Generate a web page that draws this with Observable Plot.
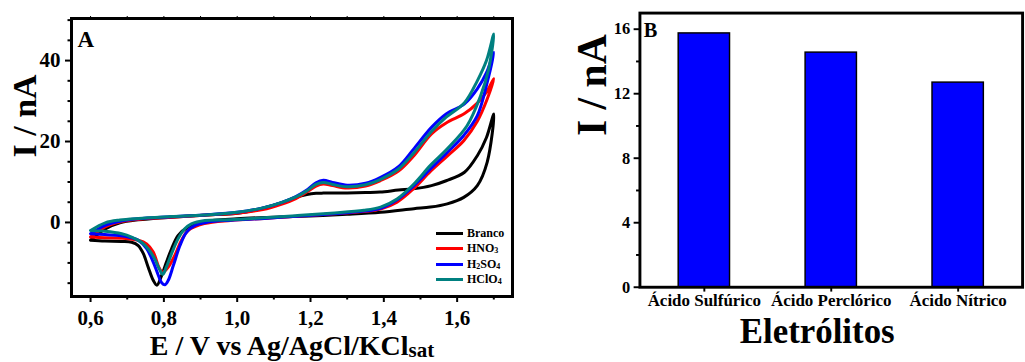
<!DOCTYPE html>
<html><head><meta charset="utf-8">
<script src="https://cdn.jsdelivr.net/npm/d3@7"></script>
<script src="https://cdn.jsdelivr.net/npm/@observablehq/plot@0.6"></script>
<style>
body{margin:0;background:#fff;}
#wrap{position:relative;width:1025px;height:362px;overflow:hidden;background:#fff;font-family:"Times New Roman","Liberation Serif",serif;font-weight:bold;}
#pa{position:absolute;left:0;top:0;}
#pb{position:absolute;left:560px;top:0;width:465px;height:362px;overflow:hidden;}
#legend{position:absolute;left:436px;top:226px;font-size:12px;}
.row{display:flex;align-items:center;height:15.3px;white-space:nowrap;}
.sw{display:inline-block;width:27px;height:3px;margin-right:4px;}
sub{font-size:8px;vertical-align:baseline;position:relative;top:1px;}
</style></head><body>
<div id="wrap"><div id="pa"></div><div id="pb"></div><div id="legend"></div></div>
<script>
const FONT = "'Times New Roman','Liberation Serif',serif";

// ---- Panel A: cyclic voltammograms ----
const seriesNames = ["Branco", "HNO3", "H2SO4", "HClO4"];
const seriesColors = ["#000000", "#ff0000", "#0000ff", "#008080"];
const legendLabels = ["Branco", "HNO<sub>3</sub>", "H<sub>2</sub>SO<sub>4</sub>", "HClO<sub>4</sub>"];

// forward scan potentials (V)
const fwdE = [0.60, 0.64, 0.68, 0.73, 0.82, 0.91, 1.00, 1.07, 1.12, 1.16, 1.19, 1.215, 1.235, 1.26, 1.30, 1.35, 1.39, 1.44, 1.48, 1.53, 1.57, 1.62, 1.655, 1.68, 1.70];
const brancoFwdI = [-4.4, -1.6, -0.1, 0.65, 1.3, 1.8, 2.3, 3.5, 4.8, 6.2, 6.9, 7.2, 7.25, 7.25, 7.3, 7.4, 7.5, 8.0, 8.3, 9.1, 10.3, 12.4, 16.5, 21.0, 26.8];
const hno3FwdI   = [-3.6, -1.1, 0.1, 0.75, 1.3, 1.8, 2.3, 3.2, 4.5, 5.9, 7.5, 9.0, 9.5, 9.1, 8.5, 9.0, 10.3, 12.7, 16.3, 21.9, 24.6, 26.9, 29.5, 32.2, 35.5];
const h2so4FwdI  = [-2.8, -0.7, 0.3, 0.9, 1.4, 1.85, 2.5, 3.6, 4.9, 6.4, 8.0, 9.8, 10.4, 9.9, 9.2, 9.7, 11.1, 13.8, 18.0, 23.5, 26.8, 29.3, 33.0, 37.0, 42.0];
const hclo4FwdI  = [-2.0, -0.1, 0.6, 1.0, 1.45, 1.85, 2.5, 3.6, 4.9, 6.3, 7.8, 9.4, 9.9, 9.4, 8.8, 9.3, 10.6, 13.2, 17.0, 22.5, 26.0, 29.6, 35.0, 40.0, 46.6];

// reverse scan [E (V), I (nA)]
const brancoRev = [[1.682,14.9],[1.655,9.1],[1.618,6.2],[1.573,4.6],[1.527,3.8],[1.482,3.4],[1.391,2.5],[1.30,2.0],[1.20,1.6],[1.10,1.3],[1.00,0.9],[0.912,0.2],[0.866,-1.15],[0.839,-3.2],[0.821,-6.5],[0.807,-9.8],[0.794,-13.1],[0.781,-15.5],[0.771,-14.3],[0.757,-11.0],[0.744,-7.7],[0.73,-5.7],[0.712,-4.9],[0.685,-4.7],[0.639,-4.6],[0.60,-4.4]];
const hno3Rev = [[1.682,30.5],[1.655,25.0],[1.618,20.2],[1.573,16.4],[1.527,12.6],[1.482,8.4],[1.436,5.0],[1.391,3.3],[1.346,2.7],[1.255,2.1],[1.164,1.5],[1.073,1.0],[0.982,0.5],[0.91,-0.3],[0.866,-2.0],[0.848,-4.4],[0.83,-8.1],[0.812,-11.0],[0.797,-12.3],[0.787,-11.2],[0.771,-7.3],[0.753,-5.3],[0.73,-4.4],[0.703,-4.0],[0.639,-3.8],[0.60,-3.6]];
const h2so4Rev = [[1.682,34.6],[1.655,26.4],[1.618,21.5],[1.573,17.3],[1.527,13.2],[1.482,9.1],[1.436,5.6],[1.391,3.5],[1.346,2.8],[1.255,2.1],[1.164,1.55],[1.073,1.0],[0.982,0.55],[0.921,0.09],[0.885,-0.74],[0.862,-2.4],[0.844,-5.7],[0.826,-10.6],[0.812,-14.3],[0.803,-15.4],[0.794,-14.9],[0.785,-13.1],[0.771,-9.8],[0.753,-6.5],[0.73,-4.4],[0.694,-3.4],[0.639,-3.0],[0.60,-2.8]];
const hclo4Rev = [[1.685,37.5],[1.664,31.3],[1.627,23.9],[1.573,18.2],[1.527,14.1],[1.482,9.5],[1.436,5.8],[1.391,3.8],[1.346,3.0],[1.255,2.3],[1.164,1.7],[1.073,1.15],[0.982,0.66],[0.912,0.5],[0.875,-0.33],[0.857,-1.56],[0.839,-4.0],[0.821,-7.7],[0.807,-11.0],[0.797,-12.8],[0.788,-11.6],[0.775,-9.0],[0.757,-6.5],[0.739,-4.9],[0.712,-3.6],[0.685,-2.8],[0.639,-2.2],[0.60,-2.0]];

const xMajor = [0.6, 0.8, 1.0, 1.2, 1.4, 1.6];
const xMinor = [0.7, 0.9, 1.1, 1.3, 1.5, 1.7];
const yMajorA = [0, 20, 40];
const yMinorA = [-15, -10, -5, 5, 10, 15, 25, 30, 35, 45, 50];
const xTitleA = "E / V vs Ag/AgCl/KCl";
const xTitleSub = "sat";

// ---- Panel B: bars ----
const electrolytes = ["Ácido Sulfúrico", "Ácido Perclórico", "Ácido Nítrico"];
const currents = [15.74, 14.55, 12.69];
const yMajorB = [0, 4, 8, 12, 16];
const yMinorB = [2, 6, 10, 14];

// build tables
const fwdI = [brancoFwdI, hno3FwdI, h2so4FwdI, hclo4FwdI];
const revs = [brancoRev, hno3Rev, h2so4Rev, hclo4Rev];
const cvRows = [];
seriesNames.forEach((s, k) => {
  fwdE.forEach((e, i) => cvRows.push({series: s, E: e, I: fwdI[k][i]}));
  revs[k].forEach(([e, v]) => cvRows.push({series: s, E: e, I: v}));
});
const barRows = electrolytes.map((n, i) => ({name: n, value: currents[i]}));

const plotA = Plot.plot({
  width: 530, height: 362,
  marginLeft: 71, marginRight: 18, marginTop: 18, marginBottom: 66,
  style: {fontFamily: FONT, fontWeight: "bold", background: "transparent", color: "#000"},
  x: {domain: [0.548, 1.751]},
  y: {domain: [-18.3, 50.4]},
  color: {domain: seriesNames, range: seriesColors},
  marks: [
    Plot.line(cvRows, {x: "E", y: "I", z: "series", stroke: "series", strokeWidth: 3, curve: "catmull-rom"}),
    Plot.frame({stroke: "#000", strokeWidth: 3}),
    Plot.axisX({ticks: xMajor, tickFormat: d => d.toFixed(1).replace(".", ","), tickSize: 6, tickPadding: 8, fontSize: 21, fontWeight: "bold", strokeWidth: 2, label: null}),
    Plot.axisX({ticks: xMinor, tickFormat: () => "", tickSize: 3.5, strokeWidth: 2, label: null}),
    Plot.axisX({anchor: "top", ticks: xMajor.concat(xMinor), tickFormat: () => "", tickSize: 3, strokeWidth: 1, label: null}),
    Plot.axisY({ticks: yMajorA, tickSize: 6, tickPadding: 5, fontSize: 21, fontWeight: "bold", strokeWidth: 2, label: null}),
    Plot.axisY({ticks: yMinorA, tickFormat: () => "", tickSize: 3.5, strokeWidth: 2, label: null}),
    Plot.text(["I / nA"], {text: d => d, frameAnchor: "left", rotate: -90, lineAnchor: "bottom", dx: -36, fontSize: 34, fontWeight: "bold"}),
    Plot.text([xTitleA], {text: d => d, frameAnchor: "bottom", lineAnchor: "bottom", dy: 58, fontSize: 28, fontWeight: "bold"}),
    Plot.text(["A"], {text: d => d, frameAnchor: "top-left", textAnchor: "start", lineAnchor: "bottom", dx: 6, dy: 28, fontSize: 23, fontWeight: "bold"})
  ]
});
d3.select(plotA).selectAll("text").filter(function () { return this.textContent === xTitleA; })
  .append("tspan").attr("font-size", 21).attr("dy", 2).text(xTitleSub);
document.getElementById("pa").appendChild(plotA);

const plotB = Plot.plot({
  width: 480, height: 362,
  marginLeft: 82, marginRight: 3, marginTop: 13, marginBottom: 66,
  style: {fontFamily: FONT, fontWeight: "bold", background: "transparent", color: "#000"},
  x: {type: "band", domain: electrolytes, paddingInner: 0.595, paddingOuter: 0.2975, align: 0.5},
  y: {domain: [0, 17]},
  marks: [
    Plot.barY(barRows, {x: "name", y: "value", fill: "#0000ff", stroke: "#000", strokeWidth: 1.5}),
    Plot.frame({stroke: "#000", strokeWidth: 3}),
    Plot.axisY({ticks: yMajorB, tickSize: 6, tickPadding: 4, fontSize: 17, fontWeight: "bold", strokeWidth: 2, label: null}),
    Plot.axisY({ticks: yMinorB, tickFormat: () => "", tickSize: 3.5, strokeWidth: 2, label: null}),
    Plot.axisX({tickSize: 5, tickPadding: 2.4, fontSize: 17.5, fontWeight: "bold", strokeWidth: 2, label: null}),
    Plot.text(["I / nA"], {text: d => d, frameAnchor: "left", rotate: -90, lineAnchor: "bottom", dx: -35, dy: -14.5, fontSize: 43, fontWeight: "bold"}),
    Plot.text(["Eletrólitos"], {text: d => d, frameAnchor: "bottom", lineAnchor: "bottom", dx: -14.5, dy: 58, fontSize: 36, fontWeight: "bold"}),
    Plot.text(["B"], {text: d => d, frameAnchor: "top-left", textAnchor: "start", lineAnchor: "bottom", dx: 4, dy: 25, fontSize: 21, fontWeight: "bold"})
  ]
});
document.getElementById("pb").appendChild(plotB);

// legend for panel A
const lg = document.getElementById("legend");
seriesNames.forEach((s, i) => {
  const r = document.createElement("div");
  r.className = "row";
  r.innerHTML = `<span class="sw" style="background:${seriesColors[i]}"></span><span>${legendLabels[i]}</span>`;
  lg.appendChild(r);
});
</script>
</body></html>
